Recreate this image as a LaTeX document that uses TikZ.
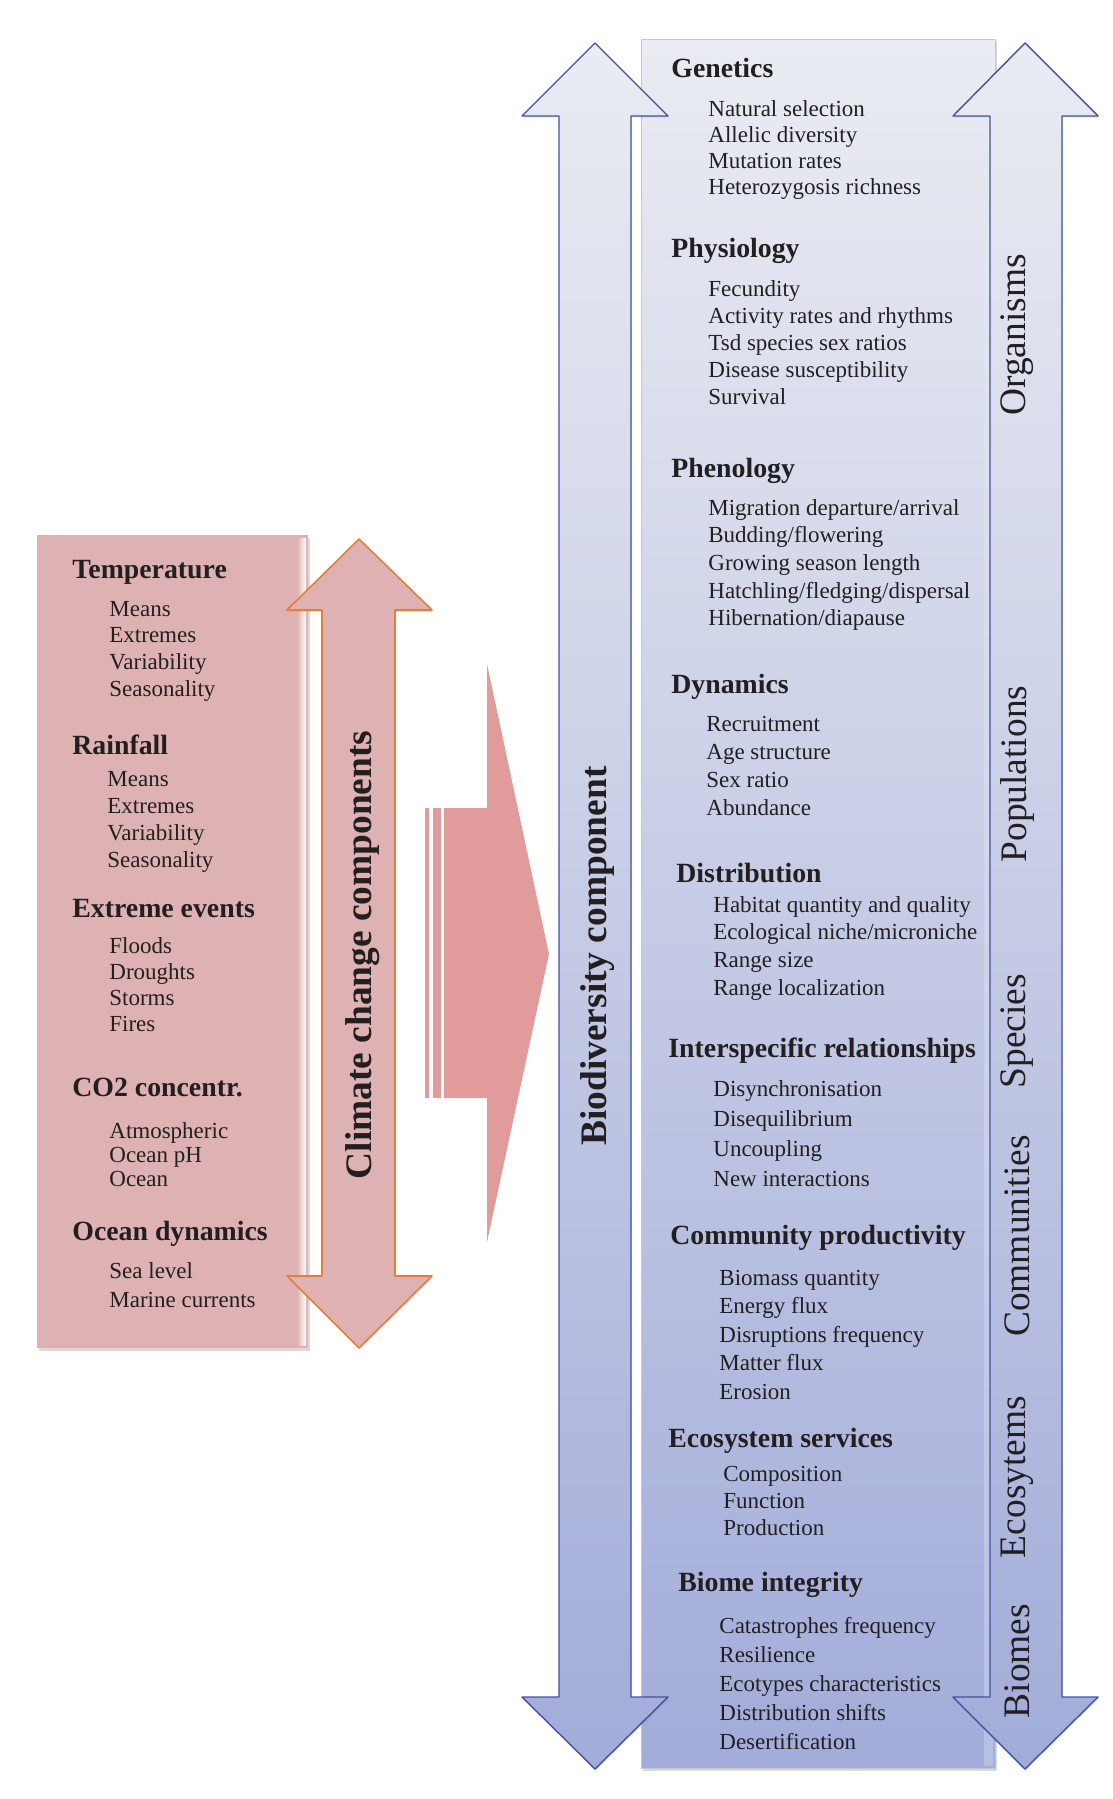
\documentclass[tikz,border=0pt]{standalone}
\usepackage{fontspec}
\setmainfont{Liberation Serif}
\usetikzlibrary{shadows}
\definecolor{pinkbox}{RGB}{222,178,178}
\definecolor{pinkarrow}{RGB}{225,155,155}
\definecolor{orangeline}{RGB}{228,126,62}
\definecolor{bluetop}{RGB}{234,236,242}
\definecolor{bluebot}{RGB}{162,172,217}
\definecolor{blueline}{RGB}{66,82,160}
\definecolor{txt}{RGB}{35,31,32}
% one column of items, stacked from a first baseline
\newcommand\drawitems[5]{%
  \foreach \t [count=\i] in {#5}
    \node[itemtext] (#4-\i) at (#1,{#2+(\i-1)*#3}) {\t};}
\begin{document}
\begin{tikzpicture}[x=0.5pt,y=-0.5pt,line join=round]
\tikzset{headtext/.style={anchor=base west,inner sep=0pt,text=txt,font=\fontsize{13.9}{16}\selectfont\bfseries},
  itemtext/.style={anchor=base west,inner sep=0pt,text=txt,font=\fontsize{11.5}{14}\selectfont},
  sidetext/.style={rotate=90,inner sep=0pt,text=txt,font=\fontsize{18.7}{22}\selectfont},
  bluearrow/.style={draw=blueline,line width=0.7pt,top color=bluetop,bottom color=bluebot,
    drop shadow={shadow xshift=0.6pt,shadow yshift=-0.8pt,opacity=0.2}},
  panel/.style={drop shadow={shadow xshift=0.8pt,shadow yshift=-1.5pt,opacity=0.3}}}
\useasboundingbox (0,0) rectangle (1113,1799);

% climate side
\fill[pinkbox,panel] (37,535) rectangle (308,1348);
\shade[left color=pinkbox,right color=white] (297,538) rectangle (306,1345);
\draw[orangeline,line width=0.8pt,fill=pinkbox,drop shadow={shadow xshift=0.6pt,shadow yshift=-0.8pt,opacity=0.2}]
  (359,539)--(432,610)--(395,610)--(395,1276)--(432,1276)--(359,1348)
  --(287,1276)--(322,1276)--(322,610)--(287,610)--cycle;

% big arrow
\fill[pinkarrow] (425,808) rectangle (429,1098);
\fill[pinkarrow] (433,808) rectangle (441,1098);
\fill[pinkarrow] (444,808)--(487,808)--(487,664)--(549,954)--(487,1242)--(487,1098)--(444,1098)--cycle;

% biodiversity side
\shade[top color=bluetop,bottom color=bluebot,draw=black!22,line width=0.5pt,panel] (641,39) rectangle (995,1768);
\shade[top color=bluetop,bottom color=bluebot!70!white,opacity=0.8] (984,42) rectangle (993,1765);
\draw[bluearrow] (595,43)--(668,116)--(631,116)--(631,1697)--(668,1697)--(595,1769)
  --(522,1697)--(559,1697)--(559,116)--(522,116)--cycle;
\draw[bluearrow] (1025,43)--(1098,116)--(1062,116)--(1062,1697)--(1098,1697)--(1025,1769)
  --(953,1697)--(990,1697)--(990,116)--(953,116)--cycle;

% left column
\node[headtext] (temp) at (72,578) {Temperature};
\drawitems{109}{616}{26.7}{temp}{Means,Extremes,Variability,Seasonality}
\node[headtext] (rain) at (72,754) {Rainfall};
\drawitems{107}{786}{27}{rain}{Means,Extremes,Variability,Seasonality}
\node[headtext] (events) at (72,917) {Extreme events};
\drawitems{109}{953}{26}{events}{Floods,Droughts,Storms,Fires}
\node[headtext] (co2) at (72,1096) {CO2 concentr.};
\drawitems{109}{1138}{24}{co2}{Atmospheric,Ocean pH,Ocean}
\node[headtext] (ocean) at (72,1240) {Ocean dynamics};
\drawitems{109}{1278}{29}{ocean}{Sea level,Marine currents}

% right column
\node[headtext] (gen) at (671,77) {Genetics};
\drawitems{708}{116}{26.3}{gen}{Natural selection,Allelic diversity,Mutation rates,Heterozygosis richness}
\node[headtext] (phys) at (671,257) {Physiology};
\drawitems{708}{296}{27}{phys}{Fecundity,Activity rates and rhythms,Tsd species sex ratios,Disease susceptibility,Survival}
\node[headtext] (phen) at (671,477) {Phenology};
\drawitems{708}{515}{27.7}{phen}{Migration departure/arrival,Budding/flowering,Growing season length,Hatchling/fledging/dispersal,Hibernation/diapause}
\node[headtext] (dyn) at (671,693) {Dynamics};
\drawitems{706}{731}{28}{dyn}{Recruitment,Age structure,Sex ratio,Abundance}
\node[headtext] (dist) at (676,882) {Distribution};
\drawitems{713}{912}{27.7}{dist}{Habitat quantity and quality,Ecological niche/microniche,Range size,Range localization}
\node[headtext] (inter) at (668,1057) {Interspecific relationships};
\drawitems{713}{1096}{30}{inter}{Disynchronisation,Disequilibrium,Uncoupling,New interactions}
\node[headtext] (comm) at (670,1244) {Community productivity};
\drawitems{719}{1285}{28.5}{comm}{Biomass quantity,Energy flux,Disruptions frequency,Matter flux,Erosion}
\node[headtext] (eco) at (668,1447) {Ecosystem services};
\drawitems{723}{1481}{27}{eco}{Composition,Function,Production}
\node[headtext] (biome) at (678,1591) {Biome integrity};
\drawitems{719}{1633}{29}{biome}{Catastrophes frequency,Resilience,Ecotypes characteristics,Distribution shifts,Desertification}

% arrow labels
\node[sidetext,font=\fontsize{18.7}{22}\selectfont\bfseries] (climate) at (363,955) {Climate change components};
\node[sidetext,font=\fontsize{18.7}{22}\selectfont\bfseries] (biodiv) at (598,956) {Biodiversity component};
\node[sidetext] (organisms) at (1017,335) {Organisms};
\node[sidetext] (populations) at (1017,774) {Populations};
\node[sidetext] (species) at (1017,1031) {Species};
\node[sidetext] (communities) at (1017,1236) {Communities};
\node[sidetext] (ecosystems) at (1017,1477) {Ecosytems};
\node[sidetext] (biomes) at (1017,1661) {Biomes};
\end{tikzpicture}
\end{document}
